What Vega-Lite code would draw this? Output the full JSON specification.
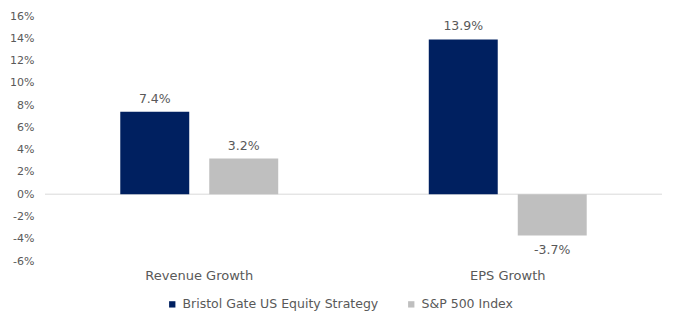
{
  "$schema": "https://vega.github.io/schema/vega-lite/v6.json",
  "autosize": {"type": "none"},
  "width": 617,
  "height": 245,
  "padding": {"left": 45, "top": 16, "right": 16, "bottom": 65},
  "background": "white",
  "config": {
    "view": {"stroke": null},
    "font": "DejaVu Sans",
    "axis": {"labelColor": "#595959", "labelFont": "DejaVu Sans"},
    "legend": {"labelColor": "#595959", "labelFont": "DejaVu Sans"}
  },
  "data": {
    "values": [
      {"metric": "Revenue Growth", "series": "Bristol Gate US Equity Strategy", "value": 7.4, "label": "7.4%"},
      {"metric": "Revenue Growth", "series": "S&P 500 Index", "value": 3.2, "label": "3.2%"},
      {"metric": "EPS Growth", "series": "Bristol Gate US Equity Strategy", "value": 13.9, "label": "13.9%"},
      {"metric": "EPS Growth", "series": "S&P 500 Index", "value": -3.7, "label": "-3.7%"}
    ]
  },
  "encoding": {
    "x": {
      "field": "metric", "type": "nominal",
      "sort": ["Revenue Growth", "EPS Growth"],
      "scale": {"paddingInner": 0.488, "paddingOuter": 0.244},
      "axis": {"title": null, "labelAngle": 0, "domain": false, "ticks": false, "labelPadding": 8, "labelFontSize": 13}
    },
    "xOffset": {
      "field": "series", "type": "nominal",
      "sort": ["Bristol Gate US Equity Strategy", "S&P 500 Index"],
      "scale": {"paddingInner": 0.225, "paddingOuter": 0}
    },
    "y": {
      "field": "value", "type": "quantitative",
      "scale": {"domain": [-6, 16], "nice": false, "zero": false},
      "axis": {
        "title": null, "values": [-6, -4, -2, 0, 2, 4, 6, 8, 10, 12, 14, 16],
        "labelExpr": "datum.value + '%'",
        "grid": false, "domain": false, "ticks": false, "labelPadding": 11, "labelFontSize": 11
      }
    }
  },
  "layer": [
    {
      "mark": {"type": "rule", "color": "#D9D9D9", "strokeWidth": 1},
      "data": {"values": [{"zero": 0}]},
      "encoding": {
        "x": null, "xOffset": null,
        "y": {"field": "zero", "type": "quantitative"}
      }
    },
    {
      "mark": {"type": "bar"},
      "encoding": {
        "color": {
          "field": "series", "type": "nominal",
          "scale": {"domain": ["Bristol Gate US Equity Strategy", "S&P 500 Index"], "range": ["#002060", "#BFBFBF"]},
          "legend": {
            "title": null, "orient": "none", "direction": "horizontal",
            "legendX": 121, "legendY": 282,
            "symbolType": "square", "symbolSize": 40, "symbolStrokeWidth": 0,
            "labelFontSize": 12.5, "labelOffset": 4, "columnPadding": 26, "labelLimit": 0
          }
        }
      }
    },
    {
      "transform": [{"filter": "datum.value >= 0"}],
      "mark": {"type": "text", "baseline": "bottom", "dy": -6, "fontSize": 12.5, "color": "#595959"},
      "encoding": {"text": {"field": "label"}}
    },
    {
      "transform": [{"filter": "datum.value < 0"}],
      "mark": {"type": "text", "baseline": "top", "dy": 9, "fontSize": 12.5, "color": "#595959"},
      "encoding": {"text": {"field": "label"}}
    }
  ]
}
